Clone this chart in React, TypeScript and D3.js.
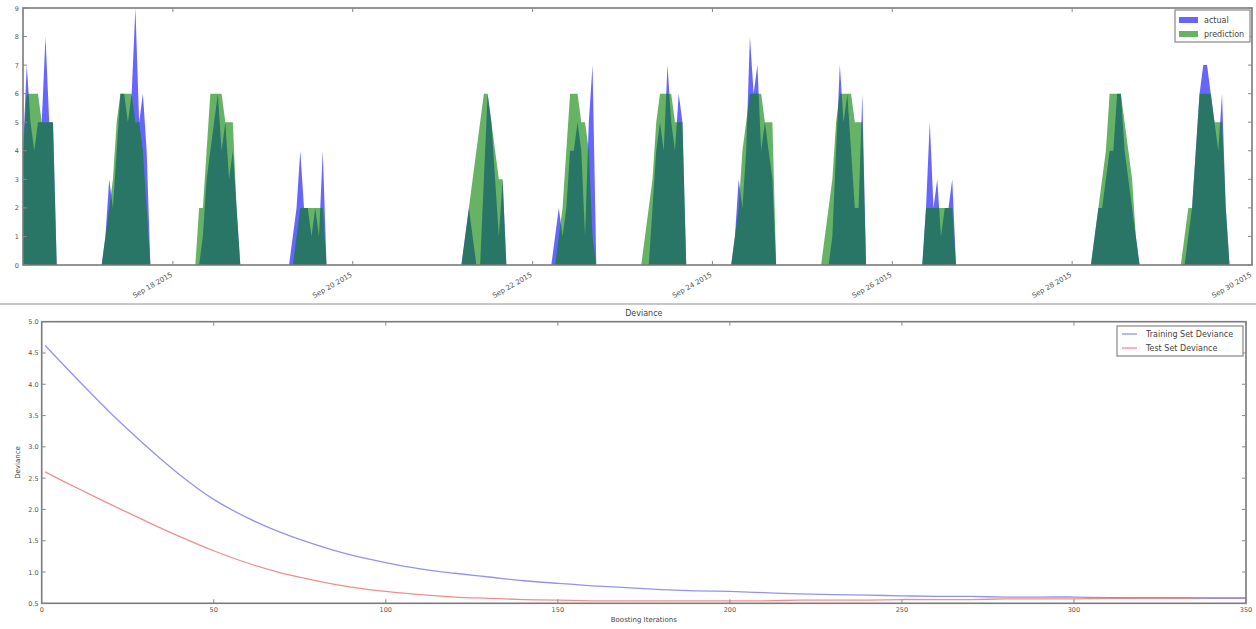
import React, { useRef, useEffect } from 'react';
import * as d3 from 'd3';

// top panel: hourly counts, only daylight hours listed (rest of the day is 0)
const seriesStart = '2015-09-16 08:00';
const seriesEnd = '2015-09-30 00:00';
const dayDates = [
  '2015-09-16', '2015-09-17', '2015-09-18', '2015-09-19', '2015-09-20', '2015-09-21', '2015-09-22',
  '2015-09-23', '2015-09-24', '2015-09-25', '2015-09-26', '2015-09-27', '2015-09-28', '2015-09-29',
];
const firstHour = [8, 5, 6, 7, 0, 5, 5, 5, 5, 5, 8, 0, 5, 5];
const actualByDay = [
  [4, 7, 5, 4, 5, 5, 8, 5, 5, 0],
  [0, 1, 3, 2, 4, 6, 6, 5, 6, 9, 5, 6, 4, 0],
  [0, 0, 1, 3, 4, 5, 6, 4, 5, 3, 4, 2, 0],
  [0, 1, 2, 4, 2, 2, 1, 2, 1, 4, 0],
  [],
  [0, 1, 2, 1, 0, 0, 3, 6, 5, 3, 1, 3, 0],
  [0, 1, 2, 1, 2, 4, 4, 5, 4, 1, 5, 7, 0],
  [0, 0, 0, 2, 4, 5, 4, 7, 5, 4, 6, 5, 0],
  [0, 1, 3, 2, 4, 8, 6, 7, 4, 5, 4, 3, 0],
  [0, 0, 0, 1, 4, 7, 5, 6, 4, 2, 2, 6, 0],
  [0, 2, 5, 2, 3, 1, 2, 2, 3, 0],
  [],
  [0, 1, 2, 2, 3, 4, 4, 6, 6, 4, 3, 2, 1, 0],
  [0, 0, 1, 2, 4, 6, 7, 7, 6, 5, 4, 6, 2, 0],
];
const predictionByDay = [
  [4, 6, 6, 6, 6, 5, 5, 5, 5, 0],
  [0, 1, 2, 3, 5, 6, 6, 6, 6, 5, 5, 4, 2, 0],
  [0, 2, 2, 4, 6, 6, 6, 6, 5, 5, 5, 2, 0],
  [0, 0, 1, 2, 2, 2, 2, 2, 2, 2, 0],
  [],
  [0, 1, 2, 3, 4, 5, 6, 6, 5, 4, 3, 3, 0],
  [0, 0, 1, 2, 4, 6, 6, 6, 5, 5, 4, 1, 0],
  [0, 1, 2, 3, 5, 6, 6, 6, 6, 5, 5, 5, 0],
  [0, 1, 2, 4, 5, 6, 6, 6, 6, 5, 5, 5, 0],
  [0, 1, 2, 3, 5, 6, 6, 6, 6, 5, 5, 5, 0],
  [0, 2, 2, 2, 2, 2, 2, 2, 2, 0],
  [],
  [0, 1, 2, 3, 4, 6, 6, 6, 6, 5, 4, 3, 1, 0],
  [0, 1, 2, 2, 4, 6, 6, 6, 6, 5, 5, 5, 2, 0],
];
const dateTicks = ['Sep 18 2015', 'Sep 20 2015', 'Sep 22 2015', 'Sep 24 2015', 'Sep 26 2015', 'Sep 28 2015', 'Sep 30 2015'];
const countTicks = [0, 1, 2, 3, 4, 5, 6, 7, 8, 9];

// bottom panel: deviance per boosting iteration
const iterations = [
  1, 10, 20, 30, 40, 50, 60, 70, 80, 90, 100, 110, 120, 130, 140, 150, 160, 170,
  180, 190, 200, 210, 220, 230, 240, 250, 260, 270, 280, 290, 300, 310, 320, 330, 340, 350,
];
const trainDeviance = [
  4.62, 4.1, 3.54, 3.03, 2.56, 2.16, 1.86, 1.62, 1.43, 1.27, 1.15, 1.05, 0.98, 0.92, 0.86, 0.82, 0.78, 0.75,
  0.72, 0.7, 0.69, 0.67, 0.65, 0.64, 0.63, 0.62, 0.61, 0.61, 0.6, 0.6, 0.6, 0.59, 0.59, 0.59, 0.58, 0.58,
];
const testDeviance = [
  2.6, 2.35, 2.08, 1.82, 1.57, 1.34, 1.14, 0.98, 0.86, 0.76, 0.69, 0.64, 0.6, 0.58, 0.56, 0.55, 0.54, 0.54,
  0.54, 0.54, 0.54, 0.54, 0.55, 0.55, 0.55, 0.56, 0.56, 0.56, 0.57, 0.57, 0.57, 0.58, 0.58, 0.58, 0.59, 0.59,
];
const iterTicks = [0, 50, 100, 150, 200, 250, 300, 350];
const devianceTicks = [0.5, 1.0, 1.5, 2.0, 2.5, 3.0, 3.5, 4.0, 4.5, 5.0];

const FONT = 'DejaVu Sans, sans-serif';
const W = 1256;
const H = 629;

const App = () => {
  const ref = useRef<SVGSVGElement>(null);

  useEffect(() => {
    document.body.style.margin = '0';
    const svg = d3.select(ref.current);
    svg.selectAll('*').remove();
    svg.append('rect').attr('width', W).attr('height', H).attr('fill', '#fff');

    // ---------- top panel ----------
    const parseHour = d3.timeParse('%Y-%m-%d %H:%M');
    const parseDay = d3.timeParse('%Y-%m-%d');
    const parseTick = d3.timeParse('%b %d %Y');
    const t0 = parseHour(seriesStart)!;
    const t1 = parseHour(seriesEnd)!;
    const day0 = parseDay(dayDates[0])!;

    const hours = d3.timeHour.range(t0, d3.timeHour.offset(t1, 1));
    const valueAt = (byDay: number[][], t: Date) => {
      const di = d3.timeDay.count(day0, t);
      const arr = byDay[di] || [];
      const v = arr[t.getHours() - firstHour[di]];
      return v === undefined ? 0 : v;
    };
    const actual = hours.map(t => ({ t, v: valueAt(actualByDay, t) }));
    const prediction = hours.map(t => ({ t, v: valueAt(predictionByDay, t) }));

    const top = { left: 23, right: 1252, top: 8, bottom: 265 };
    const x = d3.scaleTime().domain([t0, t1]).range([top.left, top.right]);
    const y = d3.scaleLinear().domain([0, 9]).range([top.bottom, top.top]);

    const area = d3.area<{ t: Date; v: number }>()
      .x(d => x(d.t))
      .y0(y(0))
      .y1(d => y(d.v));

    const g1 = svg.append('g');
    g1.append('path').attr('d', area(actual)).attr('fill', 'blue').attr('fill-opacity', 0.6);
    g1.append('path').attr('d', area(prediction)).attr('fill', 'green').attr('fill-opacity', 0.6);

    g1.append('rect')
      .attr('x', top.left).attr('y', top.top)
      .attr('width', top.right - top.left).attr('height', top.bottom - top.top)
      .attr('fill', 'none').attr('stroke', '#7a7a7a').attr('stroke-width', 1.6);

    countTicks.forEach(v => {
      g1.append('line').attr('x1', top.left).attr('x2', top.left + 4).attr('y1', y(v)).attr('y2', y(v)).attr('stroke', '#888');
      g1.append('line').attr('x1', top.right).attr('x2', top.right - 4).attr('y1', y(v)).attr('y2', y(v)).attr('stroke', '#888');
      g1.append('text')
        .attr('x', top.left - 4).attr('y', y(v) + 2.5)
        .attr('text-anchor', 'end')
        .attr('font-family', FONT).attr('font-size', 6.5).attr('fill', '#555')
        .text(v);
    });

    dateTicks.forEach(s => {
      const tx = x(parseTick(s)!);
      g1.append('line').attr('x1', tx).attr('x2', tx).attr('y1', top.bottom).attr('y2', top.bottom - 4).attr('stroke', '#888');
      g1.append('line').attr('x1', tx).attr('x2', tx).attr('y1', top.top).attr('y2', top.top + 4).attr('stroke', '#888');
      g1.append('text')
        .attr('transform', `translate(${tx},276) rotate(-30)`)
        .attr('text-anchor', 'end')
        .attr('font-family', FONT).attr('font-size', 7).attr('fill', '#555')
        .text(s);
    });

    const lg1 = g1.append('g').attr('transform', 'translate(1175,10)');
    lg1.append('rect').attr('width', 75).attr('height', 32).attr('fill', '#fff').attr('stroke', '#888').attr('stroke-width', 1.2);
    [
      { label: 'actual', color: 'blue' },
      { label: 'prediction', color: 'green' },
    ].forEach((d, i) => {
      lg1.append('rect').attr('x', 4).attr('y', 7 + i * 14).attr('width', 19).attr('height', 6)
        .attr('fill', d.color).attr('fill-opacity', 0.6);
      lg1.append('text').attr('x', 29).attr('y', 13 + i * 14)
        .attr('font-family', FONT).attr('font-size', 8).attr('fill', '#444').text(d.label);
    });

    // separator between the two panels
    svg.append('line').attr('x1', 0).attr('x2', W).attr('y1', 304).attr('y2', 304)
      .attr('stroke', '#c8c8c8').attr('stroke-width', 2);

    // ---------- bottom panel ----------
    const bot = { left: 41.7, right: 1246, top: 321.7, bottom: 603.3 };
    const xi = d3.scaleLinear().domain([0, 350]).range([bot.left, bot.right]);
    const yd = d3.scaleLinear().domain([0.5, 5.0]).range([bot.bottom, bot.top]);

    const g2 = svg.append('g');
    const line = d3.line<number>()
      .x((_, i) => xi(iterations[i]))
      .y(d => yd(d))
      .curve(d3.curveCatmullRom);

    g2.append('path').attr('d', line(trainDeviance)).attr('fill', 'none')
      .attr('stroke', '#6f6fe8').attr('stroke-opacity', 0.75).attr('stroke-width', 1.3);
    g2.append('path').attr('d', line(testDeviance)).attr('fill', 'none')
      .attr('stroke', '#e86a6a').attr('stroke-opacity', 0.75).attr('stroke-width', 1.3);

    g2.append('rect')
      .attr('x', bot.left).attr('y', bot.top)
      .attr('width', bot.right - bot.left).attr('height', bot.bottom - bot.top)
      .attr('fill', 'none').attr('stroke', '#7a7a7a').attr('stroke-width', 1.6);

    devianceTicks.forEach(v => {
      g2.append('line').attr('x1', bot.left).attr('x2', bot.left + 4).attr('y1', yd(v)).attr('y2', yd(v)).attr('stroke', '#888');
      g2.append('line').attr('x1', bot.right).attr('x2', bot.right - 4).attr('y1', yd(v)).attr('y2', yd(v)).attr('stroke', '#888');
      g2.append('text')
        .attr('x', bot.left - 3).attr('y', yd(v) + 2.5)
        .attr('text-anchor', 'end')
        .attr('font-family', FONT).attr('font-size', 6.5).attr('fill', '#555')
        .text(d3.format('.1f')(v));
    });

    iterTicks.forEach(v => {
      g2.append('line').attr('x1', xi(v)).attr('x2', xi(v)).attr('y1', bot.bottom).attr('y2', bot.bottom - 4).attr('stroke', '#888');
      g2.append('line').attr('x1', xi(v)).attr('x2', xi(v)).attr('y1', bot.top).attr('y2', bot.top + 4).attr('stroke', '#888');
      g2.append('text')
        .attr('x', xi(v)).attr('y', bot.bottom + 9)
        .attr('text-anchor', 'middle')
        .attr('font-family', FONT).attr('font-size', 6.5).attr('fill', '#555')
        .text(v);
    });

    const midX = (bot.left + bot.right) / 2;
    g2.append('text').attr('x', midX).attr('y', 316).attr('text-anchor', 'middle')
      .attr('font-family', FONT).attr('font-size', 8).attr('fill', '#444').text('Deviance');
    g2.append('text').attr('x', midX).attr('y', 622).attr('text-anchor', 'middle')
      .attr('font-family', FONT).attr('font-size', 7).attr('fill', '#444').text('Boosting Iterations');
    g2.append('text')
      .attr('transform', `translate(20,${(bot.top + bot.bottom) / 2}) rotate(-90)`)
      .attr('text-anchor', 'middle')
      .attr('font-family', FONT).attr('font-size', 7).attr('fill', '#444').text('Deviance');

    const lg2 = g2.append('g').attr('transform', 'translate(1117,326)');
    lg2.append('rect').attr('width', 126).attr('height', 30).attr('fill', '#fff').attr('stroke', '#888').attr('stroke-width', 1.2);
    [
      { label: 'Training Set Deviance', color: '#6f6fe8' },
      { label: 'Test Set Deviance', color: '#e86a6a' },
    ].forEach((d, i) => {
      lg2.append('line').attr('x1', 5).attr('x2', 20).attr('y1', 8 + i * 14).attr('y2', 8 + i * 14)
        .attr('stroke', d.color).attr('stroke-opacity', 0.75).attr('stroke-width', 1.3);
      lg2.append('text').attr('x', 29).attr('y', 11 + i * 14)
        .attr('font-family', FONT).attr('font-size', 8).attr('fill', '#444').text(d.label);
    });
  }, []);

  return (
    <svg ref={ref} width={W} height={H} style={{ display: 'block', position: 'absolute', left: 0, top: 0 }} />
  );
};

export default App;
